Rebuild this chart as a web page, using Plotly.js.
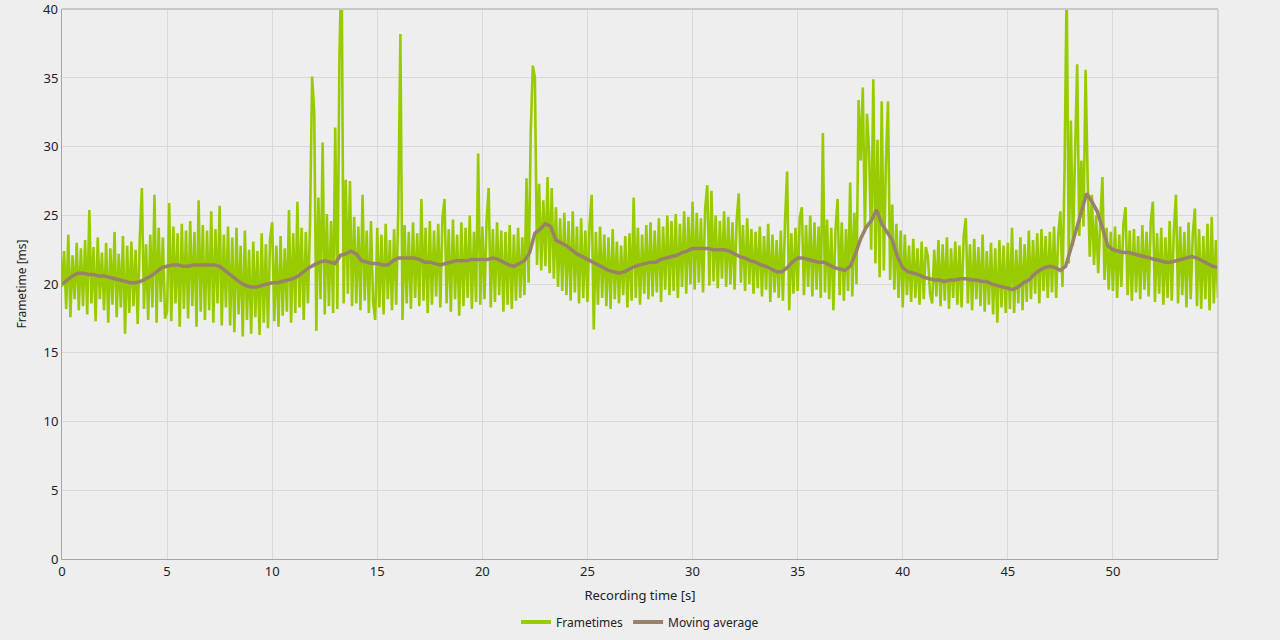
<!DOCTYPE html>
<html>
<head>
<meta charset="utf-8">
<script src="https://cdn.plot.ly/plotly-3.0.1.min.js"></script>
<style>
html,body{margin:0;padding:0;background:#eeeeee;}
#chart{width:1280px;height:640px;}
</style>
</head>
<body>
<div id="chart"></div>
<script>
// Frametimes [ms], one reading per 0.1 s of recording time
var frameStep = 0.1;
var frametimes = [
19.8,22.4,18.2,23.6,17.6,22.1,18.9,23.0,18.1,22.6,
18.4,23.2,17.8,25.4,18.6,22.7,17.3,23.4,18.9,22.3,
18.1,23.0,17.2,22.6,18.5,23.8,17.6,22.2,18.3,23.5,
16.4,22.8,17.9,23.1,18.4,22.5,17.1,23.3,27.0,18.2,
22.9,17.4,23.6,18.3,26.5,17.2,24.1,18.7,23.4,17.5,
18.0,25.9,17.3,24.2,18.6,23.7,16.9,24.4,18.2,23.9,
17.5,24.6,18.4,23.8,16.9,26.1,18.0,24.3,17.4,23.9,
18.1,25.3,17.2,24.0,18.6,25.7,17.0,23.6,18.3,24.2,
17.0,23.4,16.5,24.1,17.8,22.8,16.2,23.9,17.4,22.5,
16.4,23.1,17.6,22.4,16.3,23.7,17.2,22.9,16.8,23.3,
24.5,17.3,22.8,16.9,23.5,17.7,22.6,18.0,25.4,17.2,
23.7,17.9,26.0,18.3,24.1,17.4,23.8,18.6,24.4,35.1,
32.5,16.6,26.3,18.9,30.3,17.8,25.1,18.4,24.6,17.9,
31.4,18.2,36.5,44.0,18.6,27.6,19.3,27.5,18.4,24.9,
18.6,24.2,18.1,26.5,18.8,23.9,17.9,24.6,18.7,17.4,
24.1,18.3,23.6,17.8,24.4,18.9,23.2,18.1,24.0,18.5,
25.5,38.2,17.4,24.3,18.6,23.8,18.2,24.5,19.0,23.7,
18.4,26.2,18.8,24.1,17.9,24.6,18.5,23.9,19.1,24.4,
18.3,24.8,26.2,18.6,24.0,18.0,24.7,18.9,23.6,17.7,
24.5,18.4,24.1,19.0,25.0,18.2,23.8,18.7,29.5,18.5,
24.2,18.9,24.6,27.0,18.3,24.0,18.7,24.5,19.2,23.9,
18.0,23.8,18.5,24.3,18.2,23.6,18.8,24.1,19.0,23.4,
19.2,27.7,20.1,31.0,35.9,35.0,21.4,27.3,21.0,26.1,
21.3,27.8,20.8,27.0,20.4,25.6,19.8,24.8,19.5,25.2,
19.2,24.6,18.8,25.3,19.4,24.2,18.6,24.8,19.0,23.9,
18.7,24.3,26.5,16.7,23.8,18.5,24.2,19.0,23.6,18.4,
23.4,18.2,24.0,18.9,23.1,18.6,22.8,19.2,23.5,18.3,
23.7,18.8,26.3,19.0,24.1,18.5,23.6,19.3,24.3,18.9,
24.5,19.1,23.9,19.4,24.8,18.7,24.2,19.6,25.0,19.2,
24.6,19.5,25.1,19.0,24.4,19.8,25.3,19.3,24.9,20.0,
26.0,19.6,25.2,20.1,24.8,19.4,25.5,27.2,19.9,26.8,
20.2,25.0,19.7,24.6,20.4,25.3,19.8,24.9,20.0,24.5,
19.6,24.7,26.6,20.1,24.3,19.5,24.8,20.0,24.0,19.3,
23.8,19.7,24.2,19.1,23.5,19.6,24.4,18.7,23.6,19.4,
23.2,19.0,23.9,18.8,24.6,28.2,18.1,23.7,19.3,24.1,
19.5,24.8,25.6,19.2,24.3,19.8,25.0,19.1,24.5,19.6,
24.2,19.0,31.0,19.4,24.7,18.9,24.1,18.1,23.9,26.2,
19.2,24.5,18.8,24.0,19.5,27.4,19.1,25.2,20.0,33.4,
29.0,34.3,24.0,32.4,29.6,22.5,34.9,21.5,30.5,20.5,
33.3,21.0,28.9,33.3,20.3,25.8,19.6,24.4,19.0,23.9,
18.3,23.6,19.2,22.8,18.7,23.3,19.0,22.6,18.5,23.1,
18.9,22.7,22.0,19.3,18.6,22.5,19.1,23.2,18.4,22.9,
18.8,23.4,18.2,22.6,19.0,23.1,18.5,22.8,18.3,23.5,
24.8,18.6,22.9,18.1,23.3,18.9,22.7,18.4,23.6,18.0,
22.4,18.5,23.0,17.8,22.6,17.2,23.2,18.3,22.8,17.9,
23.0,18.2,24.1,17.9,22.5,18.6,23.4,18.1,22.9,18.7,
23.9,18.9,23.2,19.3,23.7,18.6,24.0,19.5,23.5,19.0,
23.8,19.4,24.2,19.0,23.6,25.3,19.8,28.4,42.0,21.5,
31.9,22.8,29.5,36.0,23.5,29.0,24.2,35.6,27.5,22.0,
26.5,21.4,25.0,20.8,24.6,27.8,20.3,24.1,19.6,23.8,
19.5,24.2,19.0,23.6,19.8,24.4,25.6,19.2,23.9,18.8,
24.0,19.4,23.5,18.9,24.3,19.6,23.8,19.1,24.5,26.0,
18.7,23.7,19.3,24.1,18.5,23.4,19.0,24.6,18.8,23.9,
26.5,18.6,24.2,19.2,23.8,18.3,24.5,18.9,23.6,25.5,
18.4,24.0,18.2,23.5,18.9,24.4,18.1,24.9,18.6,23.2,
19.0
];

// Moving average [ms], one reading per 0.25 s
var avgStep = 0.25;
var movingAverage = [
20.0,20.3,20.6,20.8,20.8,20.7,20.7,20.6,20.6,20.5,20.4,20.3,
20.2,20.1,20.1,20.2,20.4,20.6,20.9,21.2,21.3,21.4,21.4,21.3,
21.3,21.4,21.4,21.4,21.4,21.4,21.3,21.0,20.7,20.4,20.1,19.9,
19.8,19.8,19.9,20.0,20.1,20.1,20.2,20.3,20.4,20.6,20.9,21.2,
21.4,21.6,21.7,21.6,21.5,22.1,22.2,22.4,22.2,21.7,21.6,21.5,
21.5,21.4,21.4,21.7,21.9,21.9,21.9,21.9,21.8,21.6,21.6,21.5,
21.4,21.5,21.6,21.7,21.7,21.7,21.8,21.8,21.8,21.8,21.9,21.8,
21.6,21.4,21.3,21.5,21.7,22.3,23.7,24.0,24.4,24.2,23.2,23.0,
22.8,22.5,22.2,22.0,21.8,21.6,21.4,21.2,21.0,20.9,20.8,20.9,
21.1,21.3,21.4,21.5,21.6,21.6,21.8,21.9,22.0,22.1,22.3,22.4,
22.6,22.6,22.6,22.6,22.5,22.5,22.5,22.4,22.2,22.0,21.9,21.7,
21.6,21.4,21.3,21.1,20.9,20.9,21.2,21.6,21.9,21.9,21.8,21.7,
21.6,21.6,21.4,21.2,21.1,21.0,21.3,22.2,23.3,24.1,24.6,25.4,
24.4,23.8,23.2,22.0,21.2,20.9,20.8,20.7,20.5,20.4,20.3,20.3,
20.2,20.3,20.3,20.4,20.4,20.3,20.3,20.2,20.2,20.0,19.9,19.8,
19.7,19.6,19.8,20.1,20.3,20.7,21.0,21.2,21.3,21.2,21.0,21.3,
22.6,24.0,25.3,26.6,26.0,25.3,24.1,22.8,22.5,22.4,22.3,22.3,
22.2,22.1,22.0,21.9,21.8,21.7,21.6,21.6,21.7,21.8,21.9,22.0,
21.9,21.7,21.5,21.3,21.2
];

var xTicks = [0,5,10,15,20,25,30,35,40,45,50];
var yTicks = [0,5,10,15,20,25,30,35,40];
var seriesNames = ['Frametimes', 'Moving average'];
var seriesColors = ['#99cc00', '#98826c'];

var ftX = frametimes.map(function(v,i){return +(i*frameStep).toFixed(3);});
var maX = movingAverage.map(function(v,i){return +(i*avgStep).toFixed(3);});

var traces = [
  {x: ftX, y: frametimes, type:'scatter', mode:'lines', name:seriesNames[0],
   line:{color:seriesColors[0], width:2.6}, showlegend:false, hoverinfo:'skip'},
  {x: maX, y: movingAverage, type:'scatter', mode:'lines', name:seriesNames[1],
   line:{color:seriesColors[1], width:3.5}, showlegend:false, hoverinfo:'skip'},
  // legend entries (thick swatches like the reference)
  {x:[null], y:[null], type:'scatter', mode:'lines', name:seriesNames[0],
   line:{color:seriesColors[0], width:4}, showlegend:true},
  {x:[null], y:[null], type:'scatter', mode:'lines', name:seriesNames[1],
   line:{color:seriesColors[1], width:4}, showlegend:true}
];

var fontFam = '"Noto Sans", "Open Sans", "DejaVu Sans", sans-serif';
var layout = {
  width:1280, height:640,
  paper_bgcolor:'#eeeeee', plot_bgcolor:'#eeeeee',
  margin:{l:62, r:62, t:9, b:81, autoexpand:false},
  font:{family:fontFam, size:12, color:'#222222'},
  showlegend:true,
  legend:{orientation:'h', x:0.5, xanchor:'center', xref:'container',
          y:0.028, yanchor:'middle', yref:'container',
          itemwidth:30, tracegroupgap:0,
          font:{size:12, color:'#222222'}, bgcolor:'rgba(0,0,0,0)'},
  xaxis:{range:[0,55], tickvals:xTicks, ticktext:xTicks.map(String),
         showgrid:true, gridcolor:'#d9d9d9', gridwidth:1, automargin:false,
         zeroline:false, showline:true, linecolor:'#a6a6a6', linewidth:1,
         ticks:'', tickfont:{size:13, color:'#222'},
         title:{text:'Recording time [s]', font:{size:13, color:'#222'}, standoff:12}},
  yaxis:{range:[0,40.02], tickvals:yTicks, ticktext:yTicks.map(String),
         showgrid:true, gridcolor:'#d9d9d9', gridwidth:1, automargin:false,
         zeroline:false, showline:true, linecolor:'#a6a6a6', linewidth:1,
         ticks:'', tickfont:{size:13, color:'#222'},
         title:{text:'Frametime [ms]', font:{size:12, color:'#222'}, standoff:14}},
  annotations:[
    {text:String(yTicks[yTicks.length-1]), xref:'paper', x:0, yref:'y', y:yTicks[yTicks.length-1],
     xanchor:'right', yanchor:'middle', xshift:-2, showarrow:false,
     font:{size:13, color:'#222'}}
  ],
  shapes:[
    {type:'line', xref:'paper', yref:'paper', x0:0, x1:1, y0:1, y1:1, line:{color:'#c8c8c8', width:2}},
    {type:'line', xref:'paper', yref:'paper', x0:1, x1:1, y0:0, y1:1, line:{color:'#c8c8c8', width:1.5}}
  ]
};

Plotly.newPlot('chart', traces, layout, {displayModeBar:false, staticPlot:true});
</script>
</body>
</html>
